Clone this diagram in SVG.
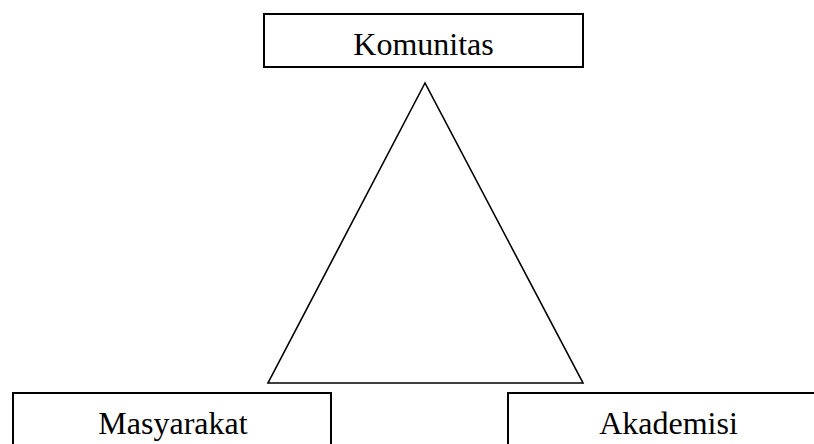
<svg xmlns="http://www.w3.org/2000/svg" width="814" height="444" viewBox="0 0 814 444">
<style>
.box{fill:#fff;stroke:#000;stroke-width:2}
.lbl{font-family:"Liberation Serif","Times New Roman",serif;font-size:32px;fill:#000;text-anchor:middle}
.tri{fill:none;stroke:#000;stroke-width:1.6;stroke-linejoin:miter}
</style>
<rect width="814" height="444" fill="#fff"/>
<g id="connectors">
<polygon class="tri" points="425,83 268,383 583,383"/>
</g>
<g id="komunitas">
<rect class="box" x="264" y="14" width="319" height="53"/>
<text class="lbl" x="423.5" y="55">Komunitas</text>
</g>
<g id="masyarakat">
<rect class="box" x="13" y="393" width="318" height="70"/>
<text class="lbl" x="173" y="434">Masyarakat</text>
</g>
<g id="akademisi">
<rect class="box" x="508" y="393" width="330" height="70"/>
<text class="lbl" x="668.5" y="434">Akademisi</text>
</g>
</svg>
